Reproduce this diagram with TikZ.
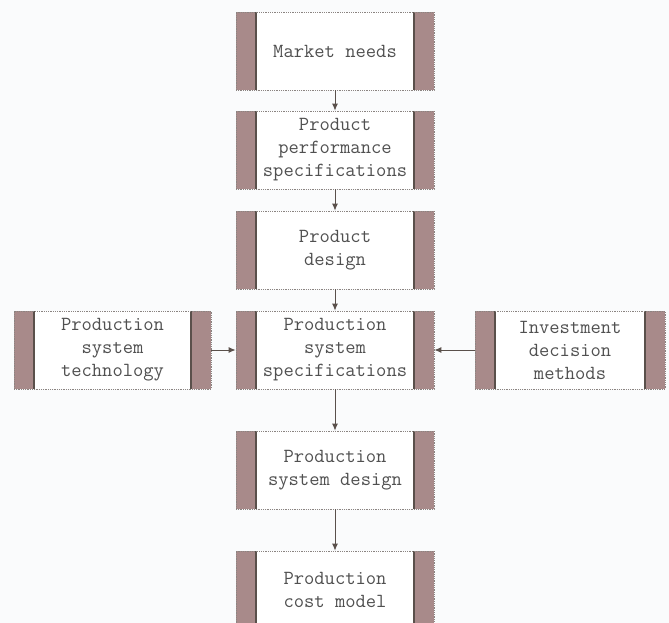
\documentclass[tikz,border=0pt]{standalone}
\usepackage{fontspec}
\usetikzlibrary{arrows.meta}
\definecolor{barcol}{RGB}{168,138,138}
\definecolor{edgecol}{RGB}{90,80,75}
\definecolor{txtcol}{RGB}{80,80,80}
\definecolor{bgcol}{RGB}{250,251,252}
\tikzset{
  x=1pt,y=-1pt,
  blk/.style={draw=edgecol!70, densely dotted, line width=0.8pt, fill=white,
    minimum width=#1, minimum height=78pt, inner sep=0pt, align=center,
    text=txtcol, font=\ttfamily\fontsize{20}{23}\selectfont,
    path picture={
      \fill[barcol] (path picture bounding box.north west) rectangle ([xshift=20pt]path picture bounding box.south west);
      \fill[barcol] (path picture bounding box.north east) rectangle ([xshift=-20pt]path picture bounding box.south east);
      \draw[edgecol, solid, line width=1.2pt] ([xshift=20pt]path picture bounding box.north west) -- ([xshift=20pt]path picture bounding box.south west);
      \draw[edgecol, solid, line width=1.2pt] ([xshift=-20pt]path picture bounding box.north east) -- ([xshift=-20pt]path picture bounding box.south east);
    }},
  blk/.default=198pt,
  arr/.style={draw=edgecol, line width=0.9pt, -{Latex[length=7pt,width=6pt]}}
}
\begin{document}
\begin{tikzpicture}
\useasboundingbox[fill=bgcol] (0,0) rectangle (669,623);
\node[blk] (mn) at (335,51) {Market needs};
\node[blk] (pps) at (335,150) {Product\\performance\\specifications};
\node[blk] (pd) at (335,250) {Product\\design};
\node[blk] (pss) at (335,350) {Production\\system\\specifications};
\node[blk] (psd) at (335,470) {Production\\system design};
\node[blk] (pcm) at (335,590) {Production\\cost model};
\node[blk=197pt] (pst) at (112.5,350) {Production\\system\\technology};
\node[blk=190pt] (idm) at (570,350) {Investment\\decision\\methods};
\draw[arr] (mn) -- (pps);
\draw[arr] (pps) -- (pd);
\draw[arr] (pd) -- (pss);
\draw[arr] (pss) -- (psd);
\draw[arr] (psd) -- (pcm);
\draw[arr] (pst) -- (pss);
\draw[arr] (idm) -- (pss);
\end{tikzpicture}
\end{document}
